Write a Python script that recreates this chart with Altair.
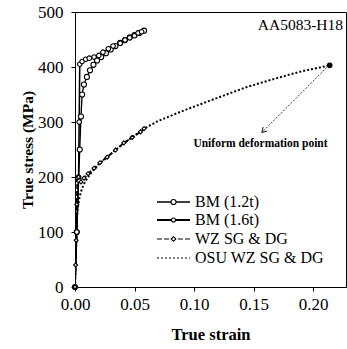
import altair as alt
import pandas as pd

# ---- data ----
bm12_strain = [0, 0.0015, 0.003, 0.004, 0.005, 0.006, 0.0075, 0.01, 0.0126, 0.0155, 0.0185,
               0.022, 0.026, 0.03, 0.034, 0.038, 0.042, 0.046, 0.05, 0.054, 0.058]
bm12_stress = [0, 100, 195, 250, 310, 350, 368, 382, 394, 404, 412,
               418, 425, 432, 438, 444, 449, 454, 458, 462, 466]

bm16_strain = [0, 0.0015, 0.003, 0.0035, 0.004, 0.006, 0.009, 0.012, 0.016, 0.02, 0.0235,
               0.028, 0.032, 0.038, 0.042, 0.046, 0.05, 0.053, 0.056]
bm16_stress = [0, 100, 200, 300, 405, 410, 414, 416, 418, 421, 427,
               433, 438, 443, 449, 453, 457, 462, 464]

wz_strain = [0, 0.0005, 0.001, 0.0015, 0.002, 0.003, 0.005, 0.0076, 0.011, 0.016, 0.021,
             0.027, 0.034, 0.041, 0.048, 0.055, 0.058]
wz_stress = [0, 40, 85, 150, 198, 200, 191, 198, 206, 216, 226,
             236, 249, 262, 272, 282, 288]

osu_strain = [0, 0.0008, 0.0015, 0.002, 0.004, 0.006, 0.0084, 0.012, 0.016, 0.021, 0.027,
              0.034, 0.041, 0.05, 0.058, 0.07, 0.088, 0.116, 0.145, 0.17, 0.19, 0.214]
osu_stress = [0, 60, 120, 140, 165, 180, 191, 203, 214, 225, 237,
              249, 261, 275, 288, 302, 318, 341, 364, 380, 392, 403]

series_names = ["BM (1.2t)", "BM (1.6t)", "WZ SG & DG", "OSU WZ SG & DG"]
uniform_point = {"strain": [0.214], "stress": [403]}
arrow_strain = [0.2115, 0.157]
arrow_stress = [399, 281]

x_ticks = [0.0, 0.05, 0.10, 0.15, 0.20]
y_ticks = [0, 100, 200, 300, 400, 500]

# ---- tables ----
rows = []
for name, xs, ys in zip(series_names,
                        [bm12_strain, bm16_strain, wz_strain, osu_strain],
                        [bm12_stress, bm16_stress, wz_stress, osu_stress]):
    for i, (a, b) in enumerate(zip(xs, ys)):
        rows.append({"series": name, "strain": a, "stress": b, "i": i})
df = pd.DataFrame(rows)
df_pts = df[df.series != "OSU WZ SG & DG"]
df_end = pd.DataFrame(uniform_point)
df_arrow = pd.DataFrame({"strain": arrow_strain, "stress": arrow_stress, "i": [0, 1]})
df_head = df_arrow.iloc[[1]]

FONT = "Liberation Serif"
W, H = 271, 275
XMAX = 0.2277

xs = alt.Scale(domain=[0, XMAX], nice=False, zero=False)
ys = alt.Scale(domain=[0, 500], nice=False)

X = alt.X("strain:Q", scale=xs,
          axis=alt.Axis(title="True strain", values=x_ticks, format=".2f",
                        titleFontSize=16.5))
Y = alt.Y("stress:Q", scale=ys,
          axis=alt.Axis(title="True stress (MPa)", values=y_ticks, format="d",
                        titleFontSize=15.5))

dash_scale = alt.Scale(domain=series_names, range=[[1, 0], [1, 0], [5, 2], [2, 2]])
width_scale = alt.Scale(domain=series_names, range=[1.3, 2.0, 1.0, 1.0])
shape_scale = alt.Scale(domain=series_names[:3], range=["circle", "circle", "diamond"])
size_scale = alt.Scale(domain=series_names[:3], range=[26, 16, 22])

lines = alt.Chart(df).mark_line(color="black", clip=True).encode(
    x=X, y=Y,
    detail="series:N",
    strokeDash=alt.StrokeDash("series:N", scale=dash_scale, legend=None),
    strokeWidth=alt.StrokeWidth("series:N", scale=width_scale, legend=None),
    order="i:Q",
)

points = alt.Chart(df_pts).mark_point(filled=True, fill="white", stroke="black",
                                      strokeWidth=1.1, opacity=1).encode(
    x=X, y=Y,
    shape=alt.Shape("series:N", scale=shape_scale, legend=None),
    size=alt.Size("series:N", scale=size_scale, legend=None),
)

endpt = alt.Chart(df_end).mark_point(filled=True, color="black", size=32, opacity=1).encode(
    x=X, y=Y)

arrow = alt.Chart(df_arrow).mark_line(color="black", strokeWidth=0.8,
                                      strokeDash=[2, 1.5]).encode(
    x=X, y=Y, order="i:Q")
head = alt.Chart(df_head).mark_point(shape="M-0.6,-1L0,0L0.6,-1", filled=False,
                                     color="black", strokeWidth=0.9, size=90,
                                     angle=45, opacity=1).encode(x=X, y=Y)

label_title = alt.Chart(df_end).mark_text(text="AA5083-H18", font=FONT, fontSize=15.5,
                                          align="right", baseline="middle",
                                          color="black").encode(
    x=alt.value(268), y=alt.value(13))
label_udp = alt.Chart(df_end).mark_text(text="Uniform deformation point", font=FONT,
                                        fontSize=11.5, fontWeight="bold",
                                        align="center", baseline="middle",
                                        color="black").encode(
    x=alt.value(185.5), y=alt.value(132))

# ---- manual legend (guide) ----
leg_y = [190, 208, 227, 246]
leg_dash = [[1, 0], [1, 0], [5, 2], [2, 2]]
leg_w = [1.3, 2.0, 1.0, 1.0]
leg_shape = ["circle", "circle", "diamond", None]
leg_size = [26, 16, 22, 0]
legend_layers = []
for name, yy, dsh, sw, shp, sz in zip(series_names, leg_y, leg_dash, leg_w, leg_shape, leg_size):
    legend_layers.append(
        alt.Chart(df_end).mark_rule(color="black", strokeWidth=sw, strokeDash=dsh).encode(
            x=alt.value(82), x2=alt.value(115), y=alt.value(yy)))
    if shp:
        legend_layers.append(
            alt.Chart(df_end).mark_point(shape=shp, filled=True, fill="white",
                                         stroke="black", strokeWidth=1.1, size=sz,
                                         opacity=1).encode(
                x=alt.value(98.5), y=alt.value(yy)))
    legend_layers.append(
        alt.Chart(df_end).mark_text(text=name, font=FONT, fontSize=16, align="left",
                                    baseline="middle", color="black").encode(
            x=alt.value(120), y=alt.value(yy)))

chart = alt.layer(lines, points, endpt, arrow, head, label_title, label_udp,
                  *legend_layers).properties(
    width=W, height=H,
    autosize=alt.AutoSizeParams(type="none"),
    padding={"left": 75, "top": 12, "right": 1, "bottom": 62},
).configure_view(stroke="black", strokeWidth=1).configure_axis(
    grid=False, domainColor="black", tickColor="black", tickSize=4,
    labelFont=FONT, labelFontSize=17, labelColor="black",
    titleFont=FONT, titleFontWeight="bold", titleColor="black",
).configure_axisX(labelPadding=5, titlePadding=14, labelFlush=False
).configure_axisY(labelPadding=8, titlePadding=2)

chart.save("out.html", embed_options={"renderer": "svg", "actions": False})
